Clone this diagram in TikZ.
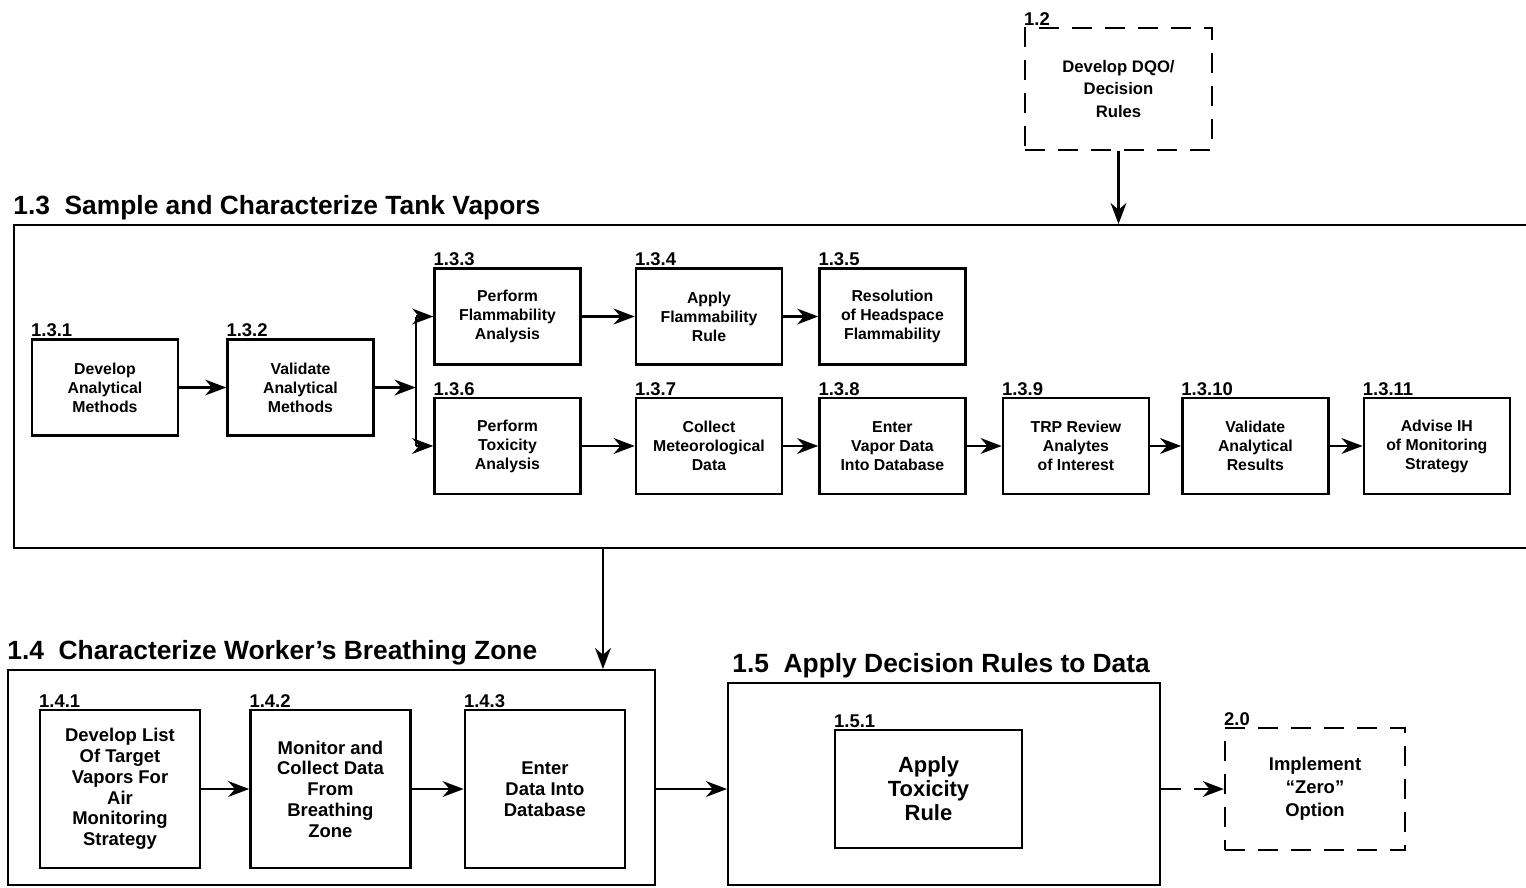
\documentclass[tikz,border=0pt]{standalone}
\usepackage{fontspec}
\setmainfont{Liberation Sans}
\usetikzlibrary{arrows.meta,positioning}
\tikzstyle{stepBox} = [draw, rectangle, line width=1.4pt, align=center, inner sep=0pt,
	minimum width=2.92cm, minimum height=1.92cm, font=\bfseries\fontsize{9}{10.8}\selectfont]
\tikzstyle{bigBox} = [stepBox, minimum width=3.2cm, minimum height=3.16cm, font=\bfseries\fontsize{10.5}{11.8}\selectfont]
\tikzstyle{dashBox} = [draw, rectangle, line width=1.3pt, dash pattern=on 0.4cm off 0.26cm, align=center,
	minimum width=3.6cm, minimum height=2.44cm, font=\bfseries\fontsize{10.5}{13}\selectfont]
\tikzstyle{frameBox} = [draw, rectangle, line width=1.1pt, inner sep=0pt]
\tikzstyle{numLabel} = [anchor=south west, inner sep=0pt, yshift=0.5pt, font=\bfseries\fontsize{10.5}{11}\selectfont]
\tikzstyle{titleLabel} = [anchor=south west, inner sep=0pt, yshift=2pt, font=\bfseries\fontsize{15}{18}\selectfont]
\tikzstyle{flowArrow} = [->, line width=1.3pt]

\begin{document}
\begin{tikzpicture}[>={Stealth[length=12pt,width=9pt]}]
		\useasboundingbox (0,0) rectangle (30.52,-17.74);
		\node[dashBox, minimum width=3.74cm, font=\bfseries\fontsize{9.5}{13}\selectfont, label={[numLabel]north west:1.2}] (p12) at (22.37,-1.78) {Develop DQO/\\Decision\\Rules};		% 1.2
		
		% 1.3 Rahmen mit Unterschritten
		\node[frameBox, minimum width=30.52cm, minimum height=6.46cm, label={[titleLabel]north west:1.3\ \ Sample and Characterize Tank Vapors}] (f13) at (15.54,-7.73) {};
		\node[stepBox, label={[numLabel]north west:1.3.1}] (p131) at (2.10,-7.75) {Develop\\Analytical\\Methods};
		\node[stepBox, right=0.94cm of p131, label={[numLabel]north west:1.3.2}] (p132) {Validate\\Analytical\\Methods};
		\coordinate[right=0.82cm of p132.east] (split);		% Verzweigung
		\node[stepBox, label={[numLabel]north west:1.3.3}] (p133) at (10.15,-6.33) {Perform\\Flammability\\Analysis};
		\node[stepBox, right=1.06cm of p133, label={[numLabel]north west:1.3.4}] (p134) {Apply\\Flammability\\Rule};
		\node[stepBox, right=0.7cm of p134, label={[numLabel]north west:1.3.5}] (p135) {Resolution\\of Headspace\\Flammability};
		\node[stepBox, below=0.62cm of p133, label={[numLabel]north west:1.3.6}] (p136) {Perform\\Toxicity\\Analysis};
		\node[stepBox, right=1.06cm of p136, label={[numLabel]north west:1.3.7}] (p137) {Collect\\Meteorological\\Data};
		\node[stepBox, right=0.7cm of p137, label={[numLabel]north west:1.3.8}] (p138) {Enter\\Vapor Data\\Into Database};
		\node[stepBox, right=0.7cm of p138, label={[numLabel]north west:1.3.9}] (p139) {TRP Review\\Analytes\\of Interest};
		\node[stepBox, right=0.62cm of p139, label={[numLabel]north west:1.3.10}] (p1310) {Validate\\Analytical\\Results};
		\node[stepBox, right=0.66cm of p1310, label={[numLabel]north west:1.3.11}] (p1311) {Advise IH\\of Monitoring\\Strategy};
		
		% 1.4 Rahmen
		\node[frameBox, minimum width=12.94cm, minimum height=4.3cm, label={[titleLabel]north west:1.4\ \ Characterize Worker's Breathing Zone}] (f14) at (6.63,-15.55) {};
		\node[bigBox, label={[numLabel]north west:1.4.1}] (p141) at (2.40,-15.78) {Develop List\\Of Target\\Vapors For\\Air\\Monitoring\\Strategy};
		\node[bigBox, right=0.96cm of p141, label={[numLabel]north west:1.4.2}] (p142) {Monitor and\\Collect Data\\From\\Breathing\\Zone};
		\node[bigBox, right=1.04cm of p142, label={[numLabel]north west:1.4.3}] (p143) {Enter\\Data Into\\Database};
		\coordinate[xshift=-1.06cm] (in14) at (f14.north east);		% Eingang 1.4
		
		% 1.5 Rahmen
		\node[frameBox, minimum width=8.64cm, minimum height=4.04cm, label={[titleLabel, xshift=0.1cm]north west:1.5\ \ Apply Decision Rules to Data}] (f15) at (18.88,-15.68) {};
		\node[stepBox, minimum width=3.74cm, minimum height=2.36cm, font=\bfseries\fontsize{12.5}{13.6}\selectfont, label={[numLabel]north west:1.5.1}] (p151) at (18.57,-15.78) {Apply\\Toxicity\\Rule};
		\node[dashBox, label={[numLabel]north west:2.0}] (p20) at (26.30,-15.78) {Implement\\``Zero''\\Option};
		
		% Pfeile
		\draw[flowArrow] (p12) -- (p12 |- f13.north);
		\draw[flowArrow] (p131) -- (p132);
		\draw[flowArrow] (p132) -- (split);
		\draw[line width=1.3pt] (split |- p133.west) -- (split |- p136.west);
		\draw[flowArrow] (split |- p133.west) -- (p133);
		\draw[flowArrow] (split |- p136.west) -- (p136);
		\draw[flowArrow] (p133) -- (p134);
		\draw[flowArrow] (p134) -- (p135);
		\draw[flowArrow] (p136) -- (p137);
		\draw[flowArrow] (p137) -- (p138);
		\draw[flowArrow] (p138) -- (p139);
		\draw[flowArrow] (p139) -- (p1310);
		\draw[flowArrow] (p1310) -- (p1311);
		\draw[flowArrow] (in14 |- f13.south) -- (in14);
		\draw[flowArrow] (p141) -- (p142);
		\draw[flowArrow] (p142) -- (p143);
		\draw[flowArrow] (f14.east |- p143.east) -- (f15.west |- p143.east);
		\draw[flowArrow, dash pattern=on 0.4cm off 0.26cm] (f15.east |- p20.west) -- (p20.west);
		
\end{tikzpicture}
\end{document}
